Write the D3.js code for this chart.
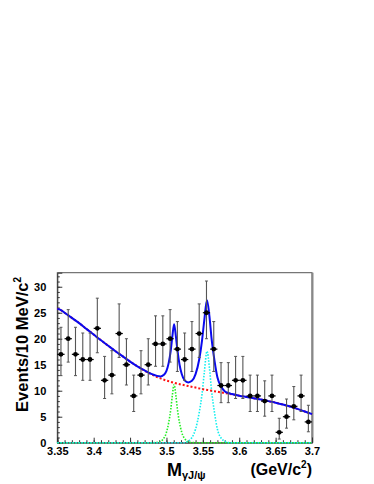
<!DOCTYPE html>
<html>
<head>
<meta charset="utf-8">
<script src="https://d3js.org/d3.v7.min.js"></script>
<style>
  body { margin: 0; background: #fff; }
  svg text { font-family: "Liberation Sans", Arial, Helvetica, sans-serif; font-weight: bold; fill: #000; }
</style>
</head>
<body>
<svg id="chart" width="374" height="484"></svg>
<script>
// measured data: bin centres (GeV/c^2) and events per 10 MeV
var binMass = [3.355, 3.365, 3.375, 3.385, 3.395, 3.405, 3.415, 3.425, 3.435, 3.445,
               3.455, 3.465, 3.475, 3.485, 3.495, 3.505, 3.515, 3.525, 3.535, 3.545,
               3.555, 3.565, 3.575, 3.585, 3.595, 3.605, 3.615, 3.625, 3.635, 3.645,
               3.655, 3.665, 3.675, 3.685, 3.695];
var counts  = [17, 20, 17, 16, 16, 22, 12, 13, 21, 15,
               9, 13, 15, 19, 19, 20, 18, 16, 18, 21,
               25, 18, 11, 11, 12, 12, 9, 9, 8, 9,
               2, 5, 7, 9, 4];
// error bar ends (asymmetric poisson), read with the points
var errHigh = [22.2, 25.6, 22.2, 21.1, 21.1, 27.8, 16.6, 17.7, 26.7, 20.0,
               13.0, 17.7, 20.0, 24.4, 24.4, 25.6, 23.3, 21.1, 23.3, 26.7,
               31.1, 23.3, 15.4, 15.4, 16.6, 16.6, 13.0, 13.0, 11.9, 13.0,
               4.7, 8.4, 10.8, 13.0, 7.2];
var errLow  = [12.9, 15.5, 12.9, 12.0, 12.0, 17.3, 8.5, 9.4, 16.4, 11.1,
               6.0, 9.4, 11.1, 14.7, 14.7, 15.5, 13.7, 12.0, 13.7, 16.4,
               20.0, 13.7, 7.7, 7.7, 8.5, 8.5, 6.0, 6.0, 5.1, 6.0,
               0.7, 2.8, 4.4, 6.0, 2.1];

// total fit (blue)
var fitMass = [3.35, 3.355, 3.36, 3.37, 3.38, 3.39, 3.40, 3.41, 3.42, 3.43, 3.44, 3.45, 3.46, 3.47, 3.48,
               3.487, 3.492, 3.496, 3.50, 3.503, 3.506, 3.508, 3.5105, 3.513, 3.515, 3.518, 3.521, 3.525,
               3.53, 3.535, 3.54, 3.545, 3.549, 3.552, 3.5557, 3.559, 3.562, 3.566, 3.57, 3.575, 3.58,
               3.585, 3.59, 3.60, 3.61, 3.62, 3.63, 3.64, 3.65, 3.66, 3.67, 3.68, 3.69, 3.70];
var fitTotal = [25.75, 25.5, 25.0, 24.0, 23.0, 21.9, 20.8, 19.7, 18.65, 17.6, 16.6, 15.6, 14.7, 13.9, 13.2,
               12.85, 12.75, 13.0, 13.8, 15.3, 17.8, 20.3, 22.8, 20.4, 17.9, 15.0, 13.2, 12.0,
               11.6, 11.9, 13.2, 16.0, 19.8, 23.6, 27.4, 24.4, 20.0, 15.8, 12.6, 10.8, 9.9,
               9.55, 9.35, 9.05, 8.8, 8.55, 8.3, 8.0, 7.7, 7.35, 6.95, 6.5, 6.0, 5.5];

// background (red dotted)
var bkgMass = [3.35, 3.355, 3.36, 3.37, 3.38, 3.39, 3.40, 3.41, 3.42, 3.43, 3.44, 3.45, 3.46, 3.47, 3.48,
               3.49, 3.50, 3.51, 3.52, 3.53, 3.54, 3.55, 3.56, 3.57, 3.58, 3.59, 3.60, 3.61, 3.62,
               3.63, 3.64, 3.65, 3.66, 3.67, 3.68, 3.69, 3.70];
var bkgVal  = [25.75, 25.5, 25.0, 24.0, 23.0, 21.9, 20.8, 19.7, 18.65, 17.6, 16.6, 15.6, 14.7, 13.85, 13.1,
               12.45, 11.95, 11.55, 11.2, 10.9, 10.6, 10.3, 10.05, 9.8, 9.55, 9.3, 9.05, 8.8, 8.55,
               8.3, 8.0, 7.7, 7.35, 6.95, 6.5, 6.0, 5.5];

// chi_c1 component (green dotted)
var c1Mass = [3.35, 3.48, 3.49, 3.495, 3.50, 3.503, 3.506, 3.508, 3.5105, 3.513, 3.515, 3.518, 3.521, 3.526, 3.531, 3.54, 3.70];
var c1Val  = [0, 0, 0.1, 0.6, 2.0, 3.8, 6.5, 9.0, 11.2, 9.0, 6.5, 3.8, 2.0, 0.6, 0.1, 0, 0];

// chi_c2 component (cyan dotted)
var c2Mass = [3.35, 3.525, 3.53, 3.535, 3.54, 3.545, 3.549, 3.552, 3.5557, 3.559, 3.562, 3.566, 3.57, 3.575, 3.58, 3.587, 3.70];
var c2Val  = [0, 0, 0.3, 1.0, 2.6, 5.8, 9.5, 13.5, 17.6, 14.5, 10.0, 5.8, 2.6, 0.9, 0.3, 0, 0];

var yTicks = [0, 5, 10, 15, 20, 25, 30];
var xTicks = [3.35, 3.4, 3.45, 3.5, 3.55, 3.6, 3.65, 3.7];

var frame = {left: 57.3, right: 312, top: 272.7, bottom: 442.7};
var binHalf = 0.005;

var svg = d3.select("#chart");
svg.append("rect").attr("width", 374).attr("height", 484).attr("fill", "#fff");

var x = d3.scaleLinear().domain([3.35, 3.7]).range([frame.left, frame.right]);
var y = d3.scaleLinear().domain([0, 32.7]).range([frame.bottom, frame.top]);

// frame
svg.append("rect")
    .attr("x", frame.left).attr("y", frame.top)
    .attr("width", frame.right - frame.left).attr("height", frame.bottom - frame.top)
    .attr("fill", "none").attr("stroke", "#555").attr("stroke-width", 1);
svg.append("line")
    .attr("x1", frame.right + 0.5).attr("x2", frame.right + 0.5)
    .attr("y1", frame.top).attr("y2", frame.bottom)
    .attr("stroke", "#888").attr("stroke-width", 2);

// axes: ticks drawn inside the frame
var yMinor = d3.range(0, 33, 1);
svg.append("g")
    .attr("transform", "translate(" + frame.left + ",0)")
    .call(d3.axisLeft(y).tickValues(yMinor).tickSize(-2.5).tickFormat(""))
    .call(function(g){ g.select(".domain").remove(); });
var yAx = svg.append("g")
    .attr("transform", "translate(" + frame.left + ",0)")
    .call(d3.axisLeft(y).tickValues(yTicks).tickSize(-5).tickPadding(11).tickFormat(d3.format("d")));
yAx.select(".domain").attr("stroke", "#333");
yAx.selectAll("text").attr("font-size", "11px").attr("dy", "0.36em");

var xMinor = d3.range(35).map(function(i){ return 3.35 + i * 0.01; });
svg.append("g")
    .attr("transform", "translate(0," + frame.bottom + ")")
    .call(d3.axisBottom(x).tickValues(xMinor).tickSize(-2.5).tickFormat(""))
    .call(function(g){ g.select(".domain").remove(); });
var xAx = svg.append("g")
    .attr("transform", "translate(0," + frame.bottom + ")")
    .call(d3.axisBottom(x).tickValues(xTicks).tickSize(-5).tickPadding(5)
          .tickFormat(function(d){ return d3.format(".3~f")(d); }));
xAx.select(".domain").attr("stroke", "#333");
xAx.selectAll("text").attr("font-size", "11px").attr("dy", "0.71em");
svg.selectAll(".tick line").attr("stroke", "#333");

// fit curves
function curvePath(xs, ys) {
  var pts = xs.map(function(m, i){ return [m, ys[i]]; });
  return d3.line()
      .x(function(d){ return x(d[0]); })
      .y(function(d){ return y(d[1]); })
      .curve(d3.curveMonotoneX)(pts);
}
svg.append("path").attr("d", curvePath(c1Mass, c1Val))
    .attr("fill", "none").attr("stroke", "#22ee22").attr("stroke-width", 1.6).attr("stroke-dasharray", "1.5,1.5");
svg.append("path").attr("d", curvePath(c2Mass, c2Val))
    .attr("fill", "none").attr("stroke", "#11eeee").attr("stroke-width", 1.6).attr("stroke-dasharray", "1.5,1.5");
svg.append("path").attr("d", curvePath(bkgMass, bkgVal))
    .attr("fill", "none").attr("stroke", "#ff1010").attr("stroke-width", 2).attr("stroke-dasharray", "2,2");
svg.append("path").attr("d", curvePath(fitMass, fitTotal))
    .attr("fill", "none").attr("stroke", "#0a0aee").attr("stroke-width", 2);

// data points with error bars
var pts = svg.append("g").selectAll("g")
    .data(binMass.map(function(m, i){ return {m: m, n: counts[i], hi: errHigh[i], lo: errLow[i]}; }))
    .enter().append("g");
pts.append("line")
    .attr("x1", function(d){ return x(d.m); }).attr("x2", function(d){ return x(d.m); })
    .attr("y1", function(d){ return y(d.hi); }).attr("y2", function(d){ return y(d.lo); })
    .attr("stroke", "#555").attr("stroke-width", 1.1);
pts.append("line")
    .attr("x1", function(d){ return x(d.m) - 1.5; }).attr("x2", function(d){ return x(d.m) + 1.5; })
    .attr("y1", function(d){ return y(d.hi); }).attr("y2", function(d){ return y(d.hi); })
    .attr("stroke", "#555").attr("stroke-width", 1);
pts.append("line")
    .attr("x1", function(d){ return x(d.m) - 1.5; }).attr("x2", function(d){ return x(d.m) + 1.5; })
    .attr("y1", function(d){ return y(d.lo); }).attr("y2", function(d){ return y(d.lo); })
    .attr("stroke", "#555").attr("stroke-width", 1);
pts.append("line")
    .attr("x1", function(d){ return x(d.m - binHalf); }).attr("x2", function(d){ return x(d.m + binHalf); })
    .attr("y1", function(d){ return y(d.n); }).attr("y2", function(d){ return y(d.n); })
    .attr("stroke", "#000").attr("stroke-width", 1.2);
pts.append("circle")
    .attr("cx", function(d){ return x(d.m); }).attr("cy", function(d){ return y(d.n); })
    .attr("r", 2.4).attr("fill", "#000");

// titles
var yTitle = svg.append("text")
    .attr("transform", "translate(28,277) rotate(-90)")
    .attr("text-anchor", "end")
    .attr("font-size", "16.5px");
yTitle.append("tspan").text("Events/10 MeV/c");
yTitle.append("tspan").attr("font-size", "10px").attr("dy", "-7").text("2");

var xTitle = svg.append("text").attr("x", 167).attr("y", 476).attr("font-size", "18px");
xTitle.append("tspan").text("M");
xTitle.append("tspan").attr("font-size", "11px").attr("dy", "3").text("γJ/ψ");

var unitTitle = svg.append("text").attr("x", 312).attr("y", 475)
    .attr("text-anchor", "end").attr("font-size", "16px");
unitTitle.append("tspan").text("(GeV/c");
unitTitle.append("tspan").attr("font-size", "10px").attr("dy", "-7").text("2");
unitTitle.append("tspan").attr("dy", "7").text(")");
</script>
</body>
</html>
